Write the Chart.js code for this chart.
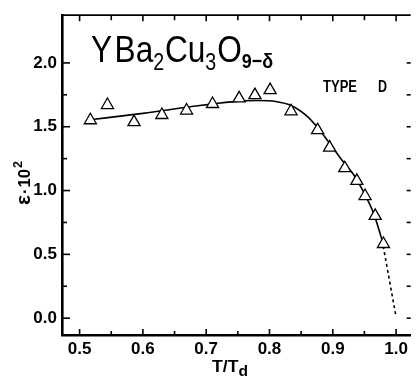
<!DOCTYPE html>
<html><head><meta charset="utf-8">
<script src="https://cdn.jsdelivr.net/npm/chart.js@4"></script>
<style>html,body{margin:0;padding:0;background:#fff;overflow:hidden}
#wrap{position:relative;width:419px;height:376px}</style>
</head><body><div id="wrap"><canvas id="c" width="419" height="376"></canvas></div>
<script>
// ---- data ----
const pointsX = [0.517,0.544,0.586,0.630,0.669,0.710,0.752,0.777,0.801,0.834,0.876,0.895,0.919,0.938,0.951,0.967,0.980];
const pointsY = [1.551,1.670,1.536,1.592,1.627,1.678,1.722,1.748,1.787,1.621,1.473,1.336,1.175,1.076,0.957,0.802,0.581];
const curveX = [0.517,0.600,0.680,0.740,0.780,0.810,0.835,0.860,0.875,0.895,0.915,0.935,0.950,0.965,0.978];
const curveY = [1.555,1.605,1.660,1.695,1.706,1.698,1.665,1.580,1.500,1.370,1.235,1.110,0.975,0.815,0.610];
const dashX = [0.978,1.000];
const dashY = [0.610,0.010];
const xTicks = [0.5,0.6,0.7,0.8,0.9,1.0];
const xTickLabels = ['0.5','0.6','0.7','0.8','0.9','1.0'];
const xMinorTicks = [0.55,0.65,0.75,0.85,0.95];
const yTicks = [0,0.5,1.0,1.5,2.0];
const yTickLabels = ['0.0','0.5','1.0','1.5','2.0'];
const yMinorTicks = [0.25,0.75,1.25,1.75];
const yRightTicks = [0,0.25,0.5,0.75,1.0,1.25,1.5,1.75,2.0];
const xRange = [0.4722,1.0231];
const yRange = [-0.132,2.374];

const FONT = "'Liberation Sans','Arial',sans-serif";

const toXY = (xs, ys) => xs.map((x,i)=>({x:x, y:ys[i]}));

// draw a sequence of text pieces [text, font, dy] squeezed to a target width
function drawSeq(ctx, pieces, x0, y0, target){
  let total = 0;
  const ws = pieces.map(p=>{ctx.font=p[1]; const w=ctx.measureText(p[0]).width + (p[3]||0); total+=w; return w;});
  const sx = target/total;
  ctx.save();
  ctx.translate(x0, y0);
  ctx.scale(sx, 1);
  let cx = 0;
  pieces.forEach((p,i)=>{ctx.font=p[1]; ctx.fillText(p[0], cx, p[2]); cx += ws[i];});
  ctx.restore();
}

const decor = {
  id:'decor',
  afterDraw(chart){
    const ctx = chart.ctx, xs = chart.scales.x, ys = chart.scales.y, a = chart.chartArea;
    ctx.save();
    ctx.strokeStyle = '#000';
    ctx.lineWidth = 1.8;
    ctx.beginPath(); ctx.moveTo(a.left, a.top); ctx.lineTo(a.right, a.top); ctx.stroke();
    ctx.lineWidth = 1.6;
    const line=(x1,y1,x2,y2)=>{ctx.beginPath();ctx.moveTo(x1,y1);ctx.lineTo(x2,y2);ctx.stroke();};
    yTicks.forEach(v=>{const p=ys.getPixelForValue(v); line(a.left, p, a.left+8, p);});
    yMinorTicks.forEach(v=>{const p=ys.getPixelForValue(v); line(a.left, p, a.left+5, p);});
    yRightTicks.forEach(v=>{const p=ys.getPixelForValue(v); line(a.right-4, p, a.right, p);});
    xTicks.forEach(v=>{const p=xs.getPixelForValue(v); line(p, a.bottom, p, a.bottom-6); line(p, a.top, p, a.top+6);});
    xMinorTicks.forEach(v=>{const p=xs.getPixelForValue(v); line(p, a.bottom, p, a.bottom-4); line(p, a.top, p, a.top+5);});
    ctx.fillStyle = '#000';
    ctx.textBaseline = 'alphabetic';
    ctx.textAlign = 'left';
    const big = "37px " + FONT, sub = "23px " + FONT, sub2 = "bold 21px " + FONT;
    drawSeq(ctx, [
      ['Y', big, 0, 3], ['Ba', big, 0], ['2', sub, 8, 1], ['Cu', big, 0], ['3', sub, 8, 1],
      ['O', big, 0], ['9\u2212\u03b4', sub2, 6]
    ], 91, 62, 182);
    drawSeq(ctx, [['TYPE', "bold 16px " + FONT, 0]], 323, 92, 34);
    drawSeq(ctx, [['D', "bold 16px " + FONT, 0]], 378, 92, 9);
    drawSeq(ctx, [['T/T', "bold 17px " + FONT, 0], ['d', "bold 15px " + FONT, 4]], 212, 372, 36);
    ctx.translate(30, 205);
    ctx.rotate(-Math.PI/2);
    drawSeq(ctx, [['\u03b5', "bold 20px " + FONT, 0, 1], ['\u00b7', "bold 16px " + FONT, 0, 1], ['10', "bold 16px " + FONT, 0, 1], ['2', "bold 12px " + FONT, -8]], 0, 0, 44);
    ctx.restore();
  }
};

new Chart(document.getElementById('c'), {
  type:'scatter',
  data:{datasets:[
    {data: toXY(curveX, curveY), showLine:true, borderColor:'#000', borderWidth:1.6, pointRadius:0, cubicInterpolationMode:'monotone', order:3},
    {data: toXY(dashX, dashY), showLine:true, borderColor:'#000', borderWidth:1.6, borderDash:[3,3], pointRadius:0, order:2},
    {data: toXY(pointsX, pointsY), showLine:false, pointStyle:'triangle', pointRadius:7, borderColor:'#000', borderWidth:1.3, backgroundColor:'#fff', order:1}
  ]},
  options:{
    responsive:false, animation:false, devicePixelRatio:1,
    layout:{padding:{top:13, right:0, left:0, bottom:0}},
    plugins:{legend:{display:false}, tooltip:{enabled:false}, title:{display:false}},
    scales:{
      x:{type:'linear', min:xRange[0], max:xRange[1],
         afterFit(s){ s.height = 41; },
         afterBuildTicks(s){ s.ticks = xTicks.map(v=>({value:v})); },
         grid:{display:false, drawTicks:false},
         border:{display:true, color:'#000', width:2.6},
         ticks:{color:'#000', padding:4, maxRotation:0, autoSkip:false, font:{family:FONT, size:17, weight:'bold'},
           callback:(v,i)=>xTickLabels[i]}},
      y:{type:'linear', min:yRange[0], max:yRange[1],
         afterFit(s){ s.width = 62; },
         afterBuildTicks(s){ s.ticks = yTicks.map(v=>({value:v})); },
         grid:{display:false, drawTicks:false},
         border:{display:true, color:'#000', width:2.6},
         ticks:{color:'#000', padding:5, autoSkip:false, font:{family:FONT, size:17, weight:'bold'},
           callback:(v,i)=>yTickLabels[i]}}
    }
  },
  plugins:[decor]
});
</script></body></html>
